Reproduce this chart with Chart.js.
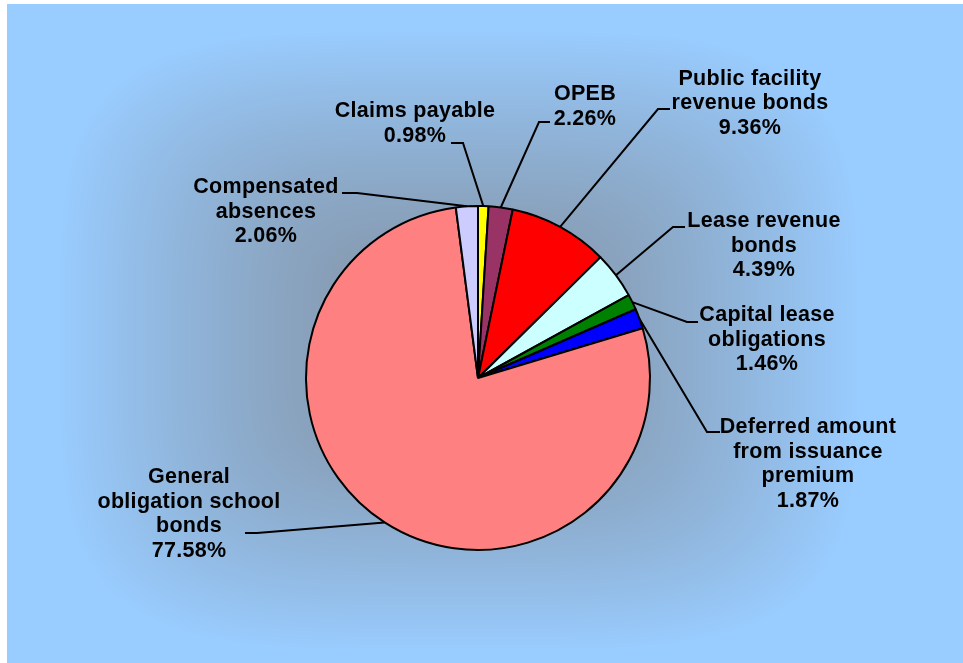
<!DOCTYPE html>
<html>
<head>
<meta charset="utf-8">
<script src="https://cdn.jsdelivr.net/npm/chart.js@4/dist/chart.umd.min.js"></script>
<style>
  html, body { margin: 0; padding: 0; background: #ffffff; }
  #wrap { width: 963px; height: 663px; position: relative; }
</style>
</head>
<body>
<div id="wrap"><canvas id="debtChart" width="963" height="663"></canvas></div>
<script>
// Long-term liabilities, share of total (%)
const categories = [
  ['Claims payable'],
  ['OPEB'],
  ['Public facility', 'revenue bonds'],
  ['Lease revenue', 'bonds'],
  ['Capital lease', 'obligations'],
  ['Deferred amount', 'from issuance', 'premium'],
  ['General', 'obligation school', 'bonds'],
  ['Compensated', 'absences']
];
const shares = [0.98, 2.26, 9.36, 4.39, 1.46, 1.87, 77.58, 2.06];
const sliceColors = ['#FFFF00', '#993366', '#FF0000', '#CCFFFF', '#008000', '#0000FF', '#FF8080', '#CCCCFF'];

// Label placement: text centre x, first baseline y, leader start and elbow
const labelLayout = [
  { cx: 415, y: 117, lead: [[451, 143], [463, 143]] },
  { cx: 585, y: 100, lead: [[550, 122], [539, 122]] },
  { cx: 750, y: 84.5, lead: [[670, 109], [658, 109]] },
  { cx: 764, y: 227, lead: [[685, 227], [673, 227]] },
  { cx: 767, y: 321, lead: [[698, 322], [687, 322]] },
  { cx: 808, y: 433, lead: [[720, 432], [707, 432]] },
  { cx: 189, y: 483, lead: [[245, 533], [257, 533]] },
  { cx: 266, y: 193, lead: [[342, 193], [357, 193]] }
];
const LINE_STEP = 24.6;
const LABEL_FONT = 'bold 21.5px "Liberation Sans", Arial, sans-serif';

// Light blue panel with a darker, soft rectangular glow behind the pie
const backdrop = {
  id: 'backdrop',
  beforeDraw(chart) {
    const { ctx, width, height } = chart;
    if (!this.img) {
      const off = document.createElement('canvas');
      off.width = width; off.height = height;
      const octx = off.getContext('2d');
      const im = octx.createImageData(width, height);
      const d = im.data;
      const cx = 458, cy = 340, a = 400, b = 310, p = 4;
      const dark = [131, 146, 164], light = [153, 204, 255];
      for (let y = 0; y < height; y++) {
        for (let x = 0; x < width; x++) {
          const i = (y * width + x) * 4;
          if (x < 7 || y < 4) { d[i] = d[i + 1] = d[i + 2] = 255; d[i + 3] = 255; continue; }
          const dx = Math.abs(x - cx) / a, dy = Math.abs(y - cy) / b;
          let t = Math.pow(Math.pow(dx, p) + Math.pow(dy, p), 1 / p);
          t = Math.pow(Math.min(1, t), 1.4);
          d[i] = dark[0] + (light[0] - dark[0]) * t;
          d[i + 1] = dark[1] + (light[1] - dark[1]) * t;
          d[i + 2] = dark[2] + (light[2] - dark[2]) * t;
          d[i + 3] = 255;
        }
      }
      octx.putImageData(im, 0, 0);
      this.img = off;
    }
    ctx.save();
    ctx.drawImage(this.img, 0, 0);
    ctx.restore();
  }
};

// Category names with percentages, joined to their slices by leader lines
const sliceLabels = {
  id: 'sliceLabels',
  afterDraw(chart) {
    const { ctx } = chart;
    const meta = chart.getDatasetMeta(0);
    ctx.save();
    meta.data.forEach((arc, i) => {
      const lay = labelLayout[i];
      const mid = (arc.startAngle + arc.endAngle) / 2;
      const ax = arc.x + Math.cos(mid) * arc.outerRadius;
      const ay = arc.y + Math.sin(mid) * arc.outerRadius;
      ctx.strokeStyle = '#000';
      ctx.lineWidth = 2;
      ctx.beginPath();
      ctx.moveTo(lay.lead[0][0], lay.lead[0][1]);
      ctx.lineTo(lay.lead[1][0], lay.lead[1][1]);
      ctx.lineTo(ax, ay);
      ctx.stroke();

      const lines = chart.data.labels[i].concat([chart.data.datasets[0].data[i].toFixed(2) + '%']);
      ctx.font = LABEL_FONT;
      if ('letterSpacing' in ctx) ctx.letterSpacing = '0.3px';
      ctx.fillStyle = '#000';
      ctx.textAlign = 'center';
      ctx.textBaseline = 'alphabetic';
      lines.forEach((ln, k) => ctx.fillText(ln, lay.cx, lay.y + k * LINE_STEP));
    });
    ctx.restore();
  }
};

new Chart(document.getElementById('debtChart'), {
  type: 'pie',
  data: {
    labels: categories,
    datasets: [{
      data: shares,
      backgroundColor: sliceColors,
      borderColor: '#000000',
      borderWidth: 2
    }]
  },
  options: {
    responsive: false,
    animation: false,
    layout: { padding: { left: 305, right: 312, top: 205, bottom: 112 } },
    plugins: {
      legend: { display: false },
      tooltip: { enabled: false }
    }
  },
  plugins: [backdrop, sliceLabels]
});
</script>
</body>
</html>
